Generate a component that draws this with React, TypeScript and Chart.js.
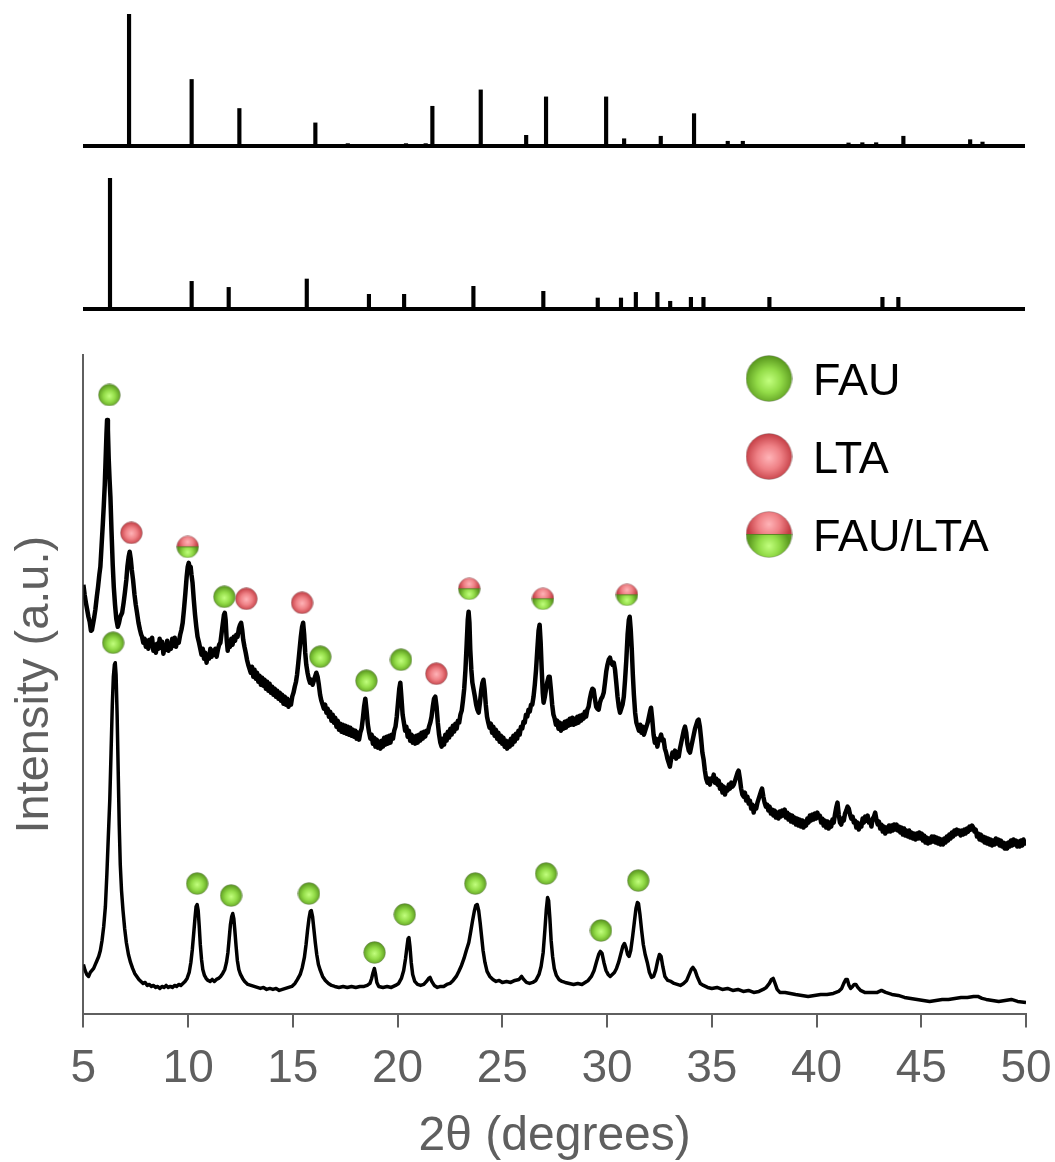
import React, { useEffect, useRef } from "react";
import { Chart, registerables } from "chart.js";

Chart.register(...registerables);

// ---------- Reference stick patterns (relative intensity) ----------
const ltaPos = [7.2, 10.19, 12.47, 16.1, 17.65, 20.43, 21.37, 21.69, 24.0, 26.17, 27.12, 29.99, 30.85, 32.6, 34.19, 35.8, 36.52, 41.57, 42.23, 42.89, 44.19, 47.38, 47.97];
const ltaInt = [100, 50.4, 28.4, 17.5, 1.8, 1.8, 1.8, 30.1, 42.5, 8.1, 37.2, 37.2, 5.5, 7.4, 24.5, 3.6, 3.6, 2.3, 2.5, 2.5, 7.4, 4.8, 3.0];

const fauPos = [6.29, 10.19, 11.96, 15.69, 18.66, 20.34, 23.65, 26.99, 29.59, 30.7, 31.41, 32.44, 33.05, 34.04, 34.64, 37.79, 43.19, 43.95];
const fauInt = [100, 21.1, 16.5, 22.9, 11.2, 11.2, 17.3, 13.5, 8.4, 8.4, 12.7, 12.7, 5.9, 8.9, 8.9, 8.9, 8.9, 8.9];

// ---------- Measured patterns: [2θ, intensity (a.u.)] ----------
const upperTrace: [number, number][] = [
  [5.0, 430], [5.06, 420], [5.12, 412], [5.18, 405], [5.24, 398], [5.3, 393], [5.36, 384], [5.41, 385], [5.47, 392], [5.52, 398], [5.57, 405], [5.64, 418], [5.7, 428], [5.76, 440], [5.81, 448], [5.87, 470], [5.93, 492], [5.97, 508], [6.02, 530], [6.06, 555], [6.1, 580], [6.13, 595], [6.17, 585], [6.21, 555], [6.25, 535], [6.29, 518], [6.34, 485], [6.4, 450], [6.45, 428], [6.51, 410], [6.57, 396], [6.64, 388], [6.7, 392], [6.76, 398], [6.85, 402], [6.92, 412], [6.98, 422], [7.05, 435], [7.1, 448], [7.16, 458], [7.21, 463], [7.26, 456], [7.31, 445], [7.37, 435], [7.44, 420], [7.5, 410], [7.56, 402], [7.63, 392], [7.7, 385], [7.76, 380], [7.8, 378], [7.86, 372], [7.92, 376], [7.98, 368], [8.04, 374], [8.1, 366], [8.16, 375], [8.22, 369], [8.28, 377], [8.34, 364], [8.4, 370], [8.46, 362], [8.52, 371], [8.58, 366], [8.64, 376], [8.7, 367], [8.76, 373], [8.82, 361], [8.88, 369], [8.94, 365], [9.0, 374], [9.06, 364], [9.12, 371], [9.18, 366], [9.24, 376], [9.3, 369], [9.36, 377], [9.42, 368], [9.48, 374], [9.55, 372], [9.62, 380], [9.68, 385], [9.74, 392], [9.8, 405], [9.87, 422], [9.93, 438], [9.98, 448], [10.03, 452], [10.08, 446], [10.12, 448], [10.16, 440], [10.21, 432], [10.27, 415], [10.33, 400], [10.39, 388], [10.45, 378], [10.52, 372], [10.58, 366], [10.64, 360], [10.7, 366], [10.76, 356], [10.82, 362], [10.88, 352], [10.94, 360], [11.0, 356], [11.06, 366], [11.12, 358], [11.18, 364], [11.24, 360], [11.3, 366], [11.36, 358], [11.42, 365], [11.48, 370], [11.54, 372], [11.6, 382], [11.66, 392], [11.71, 400], [11.75, 402], [11.79, 395], [11.84, 375], [11.89, 364], [11.94, 372], [12.0, 368], [12.06, 376], [12.12, 370], [12.18, 378], [12.24, 374], [12.3, 380], [12.36, 378], [12.42, 386], [12.48, 390], [12.53, 392], [12.58, 385], [12.63, 375], [12.69, 368], [12.75, 362], [12.81, 355], [12.87, 350], [12.93, 346], [12.99, 342], [13.05, 348], [13.11, 338], [13.17, 345], [13.23, 336], [13.29, 342], [13.35, 333], [13.41, 339], [13.47, 330], [13.53, 337], [13.59, 329], [13.65, 335], [13.71, 326], [13.77, 333], [13.83, 324], [13.89, 331], [13.95, 322], [14.01, 328], [14.07, 320], [14.13, 326], [14.19, 318], [14.25, 324], [14.31, 316], [14.37, 322], [14.43, 314], [14.49, 320], [14.55, 311], [14.61, 318], [14.67, 310], [14.73, 316], [14.79, 308], [14.85, 314], [14.91, 310], [14.97, 318], [15.03, 322], [15.09, 328], [15.15, 333], [15.2, 340], [15.26, 352], [15.32, 365], [15.38, 378], [15.44, 388], [15.49, 392], [15.54, 380], [15.59, 362], [15.64, 350], [15.7, 342], [15.76, 336], [15.82, 332], [15.88, 335], [15.94, 330], [16.0, 334], [16.06, 338], [16.12, 342], [16.18, 338], [16.24, 330], [16.3, 320], [16.36, 314], [16.42, 310], [16.48, 306], [16.54, 310], [16.6, 302], [16.66, 306], [16.72, 298], [16.78, 303], [16.84, 294], [16.9, 300], [16.96, 292], [17.02, 297], [17.08, 288], [17.14, 294], [17.2, 285], [17.26, 291], [17.32, 283], [17.38, 290], [17.44, 282], [17.5, 289], [17.56, 281], [17.62, 288], [17.68, 280], [17.74, 287], [17.8, 279], [17.86, 285], [17.92, 278], [17.98, 284], [18.04, 276], [18.1, 282], [18.16, 275], [18.22, 282], [18.28, 286], [18.34, 296], [18.4, 308], [18.46, 316], [18.52, 304], [18.58, 290], [18.64, 282], [18.7, 276], [18.76, 280], [18.82, 271], [18.88, 277], [18.94, 268], [19.0, 275], [19.06, 267], [19.12, 273], [19.18, 266], [19.24, 274], [19.3, 268], [19.36, 277], [19.42, 270], [19.48, 278], [19.54, 271], [19.6, 279], [19.66, 272], [19.72, 280], [19.78, 276], [19.84, 284], [19.9, 288], [19.96, 298], [20.02, 312], [20.08, 326], [20.13, 332], [20.18, 318], [20.24, 300], [20.3, 292], [20.36, 284], [20.42, 288], [20.48, 278], [20.54, 284], [20.6, 274], [20.66, 280], [20.72, 272], [20.78, 278], [20.84, 271], [20.9, 279], [20.96, 272], [21.02, 280], [21.08, 274], [21.14, 282], [21.2, 276], [21.26, 283], [21.32, 278], [21.38, 284], [21.44, 282], [21.5, 288], [21.56, 292], [21.62, 298], [21.68, 308], [21.74, 316], [21.8, 318], [21.86, 308], [21.92, 292], [21.98, 280], [22.04, 272], [22.1, 268], [22.16, 276], [22.22, 270], [22.28, 280], [22.34, 274], [22.4, 283], [22.46, 277], [22.52, 286], [22.58, 280], [22.64, 289], [22.7, 283], [22.76, 291], [22.82, 286], [22.88, 294], [22.94, 292], [23.0, 300], [23.06, 304], [23.12, 314], [23.18, 326], [23.24, 345], [23.3, 372], [23.35, 395], [23.39, 403], [23.43, 392], [23.47, 365], [23.52, 345], [23.57, 332], [23.63, 325], [23.69, 318], [23.75, 310], [23.81, 305], [23.87, 302], [23.93, 312], [23.99, 324], [24.05, 332], [24.1, 335], [24.15, 326], [24.21, 310], [24.27, 298], [24.33, 292], [24.39, 287], [24.45, 291], [24.51, 282], [24.57, 288], [24.63, 279], [24.69, 285], [24.75, 276], [24.81, 282], [24.87, 273], [24.93, 279], [24.99, 271], [25.05, 277], [25.11, 268], [25.17, 274], [25.23, 266], [25.29, 273], [25.35, 268], [25.41, 276], [25.47, 270], [25.53, 279], [25.59, 273], [25.65, 281], [25.71, 276], [25.77, 284], [25.83, 280], [25.89, 288], [25.95, 286], [26.01, 293], [26.07, 292], [26.13, 300], [26.19, 298], [26.25, 305], [26.31, 303], [26.37, 310], [26.43, 310], [26.49, 318], [26.55, 330], [26.61, 345], [26.67, 365], [26.73, 384], [26.78, 390], [26.83, 372], [26.88, 345], [26.93, 322], [26.97, 312], [27.03, 318], [27.09, 326], [27.15, 333], [27.21, 338], [27.26, 338], [27.32, 325], [27.38, 310], [27.44, 300], [27.5, 296], [27.56, 290], [27.62, 294], [27.68, 286], [27.74, 292], [27.8, 284], [27.86, 291], [27.92, 286], [27.98, 293], [28.04, 287], [28.1, 294], [28.16, 289], [28.22, 296], [28.28, 290], [28.34, 297], [28.4, 290], [28.46, 296], [28.52, 291], [28.58, 298], [28.64, 292], [28.7, 299], [28.76, 294], [28.82, 300], [28.88, 296], [28.94, 303], [29.0, 298], [29.06, 305], [29.12, 308], [29.18, 316], [29.24, 322], [29.3, 326], [29.36, 325], [29.42, 316], [29.48, 308], [29.54, 306], [29.6, 305], [29.66, 312], [29.72, 316], [29.78, 318], [29.84, 322], [29.9, 332], [29.96, 343], [30.02, 350], [30.08, 355], [30.14, 357], [30.2, 352], [30.26, 350], [30.32, 352], [30.38, 345], [30.44, 332], [30.5, 318], [30.56, 308], [30.62, 302], [30.68, 306], [30.74, 310], [30.8, 318], [30.86, 335], [30.92, 355], [30.98, 380], [31.04, 395], [31.08, 398], [31.13, 385], [31.18, 365], [31.23, 340], [31.28, 320], [31.34, 302], [31.4, 292], [31.46, 288], [31.52, 284], [31.58, 290], [31.64, 282], [31.7, 288], [31.76, 280], [31.82, 284], [31.88, 288], [31.94, 292], [32.0, 298], [32.06, 304], [32.1, 307], [32.16, 295], [32.22, 280], [32.28, 272], [32.34, 276], [32.4, 268], [32.46, 274], [32.52, 276], [32.58, 280], [32.64, 274], [32.7, 275], [32.76, 266], [32.82, 262], [32.88, 256], [32.94, 252], [33.0, 248], [33.06, 256], [33.12, 262], [33.18, 258], [33.24, 264], [33.3, 256], [33.36, 262], [33.42, 258], [33.48, 266], [33.54, 272], [33.6, 278], [33.66, 284], [33.72, 288], [33.78, 282], [33.84, 270], [33.9, 264], [33.96, 262], [34.02, 268], [34.08, 274], [34.14, 280], [34.2, 286], [34.26, 290], [34.32, 294], [34.37, 295], [34.43, 288], [34.49, 276], [34.55, 262], [34.61, 255], [34.67, 244], [34.73, 236], [34.79, 232], [34.85, 236], [34.91, 230], [34.97, 236], [35.03, 234], [35.09, 240], [35.15, 232], [35.21, 236], [35.27, 230], [35.33, 234], [35.39, 226], [35.45, 230], [35.51, 222], [35.57, 228], [35.63, 220], [35.69, 226], [35.75, 224], [35.81, 230], [35.87, 226], [35.93, 232], [35.99, 228], [36.05, 230], [36.11, 234], [36.17, 238], [36.23, 242], [36.28, 244], [36.34, 236], [36.4, 226], [36.46, 220], [36.52, 218], [36.58, 222], [36.64, 214], [36.7, 218], [36.76, 211], [36.82, 214], [36.88, 206], [36.94, 210], [37.0, 202], [37.06, 208], [37.12, 206], [37.18, 212], [37.24, 216], [37.3, 220], [37.36, 224], [37.4, 226], [37.46, 218], [37.52, 212], [37.58, 208], [37.64, 210], [37.7, 204], [37.76, 208], [37.82, 201], [37.88, 205], [37.94, 199], [38.0, 204], [38.06, 197], [38.12, 202], [38.18, 196], [38.24, 203], [38.3, 198], [38.36, 204], [38.42, 199], [38.48, 205], [38.54, 197], [38.6, 202], [38.66, 195], [38.72, 200], [38.78, 193], [38.84, 199], [38.9, 192], [38.96, 197], [39.02, 190], [39.08, 196], [39.14, 189], [39.2, 195], [39.26, 188], [39.32, 194], [39.38, 187], [39.44, 193], [39.5, 189], [39.56, 196], [39.62, 192], [39.68, 199], [39.74, 194], [39.8, 200], [39.86, 195], [39.92, 201], [39.98, 196], [40.04, 202], [40.1, 197], [40.16, 199], [40.22, 192], [40.28, 196], [40.34, 189], [40.4, 194], [40.46, 187], [40.52, 193], [40.58, 186], [40.64, 192], [40.7, 188], [40.76, 195], [40.82, 192], [40.88, 200], [40.94, 207], [41.0, 212], [41.06, 200], [41.12, 192], [41.18, 190], [41.24, 196], [41.3, 194], [41.36, 201], [41.42, 204], [41.48, 208], [41.54, 206], [41.6, 200], [41.66, 196], [41.72, 198], [41.78, 192], [41.84, 194], [41.9, 187], [41.96, 192], [42.02, 185], [42.08, 190], [42.14, 188], [42.2, 196], [42.26, 192], [42.32, 198], [42.38, 194], [42.44, 199], [42.5, 192], [42.56, 194], [42.62, 188], [42.68, 196], [42.74, 198], [42.8, 202], [42.86, 195], [42.92, 190], [42.98, 193], [43.04, 186], [43.1, 190], [43.16, 183], [43.22, 188], [43.28, 181], [43.34, 187], [43.4, 183], [43.46, 189], [43.52, 183], [43.58, 189], [43.64, 184], [43.7, 190], [43.76, 185], [43.82, 190], [43.88, 184], [43.94, 188], [44.0, 182], [44.06, 187], [44.12, 180], [44.18, 186], [44.24, 179], [44.3, 184], [44.36, 178], [44.42, 184], [44.48, 177], [44.54, 182], [44.6, 176], [44.66, 181], [44.72, 175], [44.78, 181], [44.84, 176], [44.9, 182], [44.96, 176], [45.02, 181], [45.08, 174], [45.14, 179], [45.2, 172], [45.26, 177], [45.32, 171], [45.38, 176], [45.44, 172], [45.5, 178], [45.56, 173], [45.62, 178], [45.68, 172], [45.74, 177], [45.8, 171], [45.86, 176], [45.92, 170], [45.98, 175], [46.04, 170], [46.1, 176], [46.16, 172], [46.22, 178], [46.28, 174], [46.34, 180], [46.4, 176], [46.46, 182], [46.52, 178], [46.58, 184], [46.64, 180], [46.7, 185], [46.76, 181], [46.82, 184], [46.88, 179], [46.94, 184], [47.0, 180], [47.06, 185], [47.12, 181], [47.18, 186], [47.24, 183], [47.3, 188], [47.36, 185], [47.42, 189], [47.48, 187], [47.54, 183], [47.6, 185], [47.66, 178], [47.72, 181], [47.78, 175], [47.84, 180], [47.9, 174], [47.96, 178], [48.02, 172], [48.08, 177], [48.14, 171], [48.2, 176], [48.26, 170], [48.32, 175], [48.38, 169], [48.44, 174], [48.5, 170], [48.56, 176], [48.62, 171], [48.68, 175], [48.74, 169], [48.8, 174], [48.86, 168], [48.92, 172], [48.98, 166], [49.04, 171], [49.1, 166], [49.16, 172], [49.22, 168], [49.28, 174], [49.34, 169], [49.4, 175], [49.46, 170], [49.52, 174], [49.58, 168], [49.64, 173], [49.7, 168], [49.76, 174], [49.82, 169], [49.88, 175], [49.94, 171], [50.0, 174],
];

const lowerTrace: [number, number][] = [
  [5.0, 50], [5.08, 44], [5.16, 40], [5.25, 38], [5.33, 42], [5.41, 44], [5.49, 46], [5.57, 50], [5.65, 54], [5.73, 58], [5.81, 64], [5.89, 74], [5.97, 88], [6.05, 108], [6.12, 140], [6.19, 178], [6.26, 215], [6.32, 262], [6.38, 310], [6.43, 338], [6.48, 350], [6.52, 352], [6.56, 340], [6.61, 300], [6.66, 245], [6.71, 190], [6.76, 150], [6.82, 124], [6.89, 104], [6.97, 86], [7.05, 72], [7.15, 60], [7.25, 52], [7.35, 46], [7.45, 41], [7.55, 38], [7.65, 35], [7.75, 33], [7.85, 31], [7.95, 32], [8.05, 29], [8.15, 30], [8.25, 28], [8.35, 29], [8.45, 27], [8.55, 28], [8.65, 26], [8.75, 28], [8.85, 27], [8.95, 29], [9.05, 27], [9.15, 28], [9.25, 27], [9.35, 29], [9.45, 28], [9.55, 30], [9.65, 29], [9.75, 31], [9.85, 33], [9.95, 36], [10.05, 42], [10.13, 52], [10.2, 65], [10.27, 82], [10.33, 97], [10.38, 108], [10.43, 110], [10.48, 104], [10.53, 88], [10.58, 70], [10.64, 55], [10.7, 45], [10.78, 39], [10.86, 36], [10.95, 34], [11.05, 33], [11.15, 35], [11.25, 33], [11.35, 35], [11.45, 36], [11.55, 38], [11.65, 41], [11.75, 45], [11.83, 52], [11.9, 62], [11.96, 76], [12.02, 90], [12.08, 98], [12.13, 101], [12.18, 96], [12.23, 84], [12.29, 68], [12.35, 54], [12.42, 45], [12.5, 40], [12.6, 36], [12.7, 33], [12.85, 30], [13.0, 29], [13.15, 28], [13.3, 27], [13.45, 26], [13.6, 27], [13.75, 25], [13.9, 26], [14.05, 25], [14.2, 26], [14.35, 24], [14.5, 25], [14.65, 26], [14.8, 27], [14.95, 28], [15.1, 31], [15.22, 35], [15.35, 40], [15.45, 47], [15.55, 57], [15.63, 70], [15.7, 84], [15.77, 96], [15.83, 103], [15.88, 104], [15.94, 98], [16.0, 86], [16.07, 72], [16.14, 60], [16.22, 50], [16.31, 44], [16.42, 38], [16.55, 34], [16.7, 31], [16.85, 29], [17.0, 28], [17.2, 27], [17.4, 28], [17.6, 27], [17.8, 28], [18.0, 27], [18.2, 28], [18.4, 28], [18.55, 29], [18.68, 31], [18.76, 36], [18.83, 42], [18.89, 46], [18.95, 40], [19.01, 32], [19.1, 28], [19.3, 27], [19.5, 28], [19.7, 27], [19.9, 29], [20.05, 31], [20.18, 36], [20.29, 44], [20.38, 56], [20.45, 68], [20.5, 76], [20.54, 77], [20.59, 68], [20.65, 52], [20.72, 40], [20.82, 33], [20.95, 30], [21.1, 29], [21.25, 30], [21.38, 33], [21.48, 36], [21.55, 37], [21.63, 33], [21.75, 29], [21.9, 27], [22.05, 28], [22.2, 28], [22.35, 30], [22.5, 31], [22.65, 34], [22.8, 38], [22.92, 43], [23.05, 49], [23.17, 56], [23.28, 64], [23.4, 72], [23.5, 84], [23.58, 94], [23.66, 103], [23.73, 109], [23.8, 110], [23.87, 104], [23.94, 92], [24.01, 78], [24.08, 64], [24.17, 52], [24.27, 43], [24.4, 38], [24.55, 35], [24.7, 33], [24.85, 34], [25.0, 32], [25.2, 33], [25.4, 32], [25.6, 34], [25.8, 35], [25.92, 38], [26.02, 35], [26.15, 32], [26.3, 31], [26.45, 32], [26.6, 34], [26.75, 40], [26.85, 48], [26.95, 62], [27.03, 84], [27.1, 105], [27.16, 117], [27.21, 114], [27.27, 96], [27.33, 74], [27.4, 58], [27.48, 46], [27.58, 39], [27.7, 35], [27.85, 33], [28.0, 32], [28.2, 31], [28.4, 30], [28.6, 31], [28.8, 30], [28.95, 32], [29.1, 34], [29.25, 38], [29.38, 44], [29.5, 53], [29.6, 60], [29.68, 63], [29.76, 61], [29.85, 52], [29.95, 44], [30.05, 40], [30.15, 38], [30.25, 40], [30.35, 42], [30.45, 46], [30.55, 52], [30.65, 60], [30.75, 68], [30.83, 71], [30.9, 67], [30.98, 60], [31.05, 58], [31.13, 64], [31.22, 78], [31.3, 92], [31.38, 106], [31.45, 112], [31.5, 111], [31.57, 100], [31.65, 84], [31.73, 70], [31.82, 60], [31.92, 52], [32.02, 42], [32.12, 37], [32.22, 38], [32.32, 44], [32.42, 54], [32.5, 60], [32.58, 58], [32.66, 48], [32.76, 38], [32.9, 34], [33.05, 33], [33.2, 31], [33.35, 30], [33.5, 29], [33.65, 31], [33.8, 34], [33.92, 40], [34.02, 45], [34.1, 47], [34.2, 44], [34.3, 38], [34.45, 31], [34.6, 29], [34.8, 27], [35.0, 26], [35.25, 27], [35.5, 25], [35.75, 26], [36.0, 24], [36.25, 25], [36.5, 23], [36.75, 24], [37.0, 22], [37.25, 23], [37.45, 25], [37.6, 27], [37.75, 31], [37.85, 35], [37.93, 36], [38.02, 31], [38.12, 25], [38.25, 22], [38.5, 22], [38.75, 21], [39.0, 20], [39.3, 19], [39.6, 18], [39.9, 19], [40.2, 20], [40.5, 20], [40.8, 21], [41.05, 23], [41.2, 26], [41.3, 31], [41.4, 35], [41.47, 35], [41.55, 29], [41.63, 26], [41.72, 28], [41.8, 30], [41.88, 30], [41.97, 27], [42.1, 24], [42.3, 22], [42.6, 22], [42.9, 22], [43.1, 24], [43.3, 22], [43.6, 20], [43.9, 19], [44.2, 17], [44.5, 16], [44.8, 15], [45.1, 14], [45.4, 13], [45.7, 14], [46.0, 15], [46.3, 15], [46.6, 16], [46.9, 17], [47.2, 17], [47.5, 18], [47.7, 18], [47.9, 16], [48.1, 15], [48.4, 14], [48.7, 13], [49.0, 14], [49.3, 15], [49.6, 13], [50.0, 12],
];

// ---------- Phase markers ----------
const fauMarkX = [6.24, 11.73, 16.31, 18.51, 20.16, 6.42, 10.43, 12.05, 15.77, 18.9, 20.34, 23.71, 27.09, 29.71, 31.49];
const fauMarkY = [620, 418, 358, 334, 355, 372, 131, 119, 121, 62, 100, 131, 141, 84, 134];
const ltaMarkX = [7.29, 12.78, 15.44, 21.85];
const ltaMarkY = [482, 416, 412, 341];
const mixMarkX = [9.98, 23.42, 26.94, 30.95];
const mixMarkY = [468, 426, 416, 420];

const legendLabels = ["FAU", "LTA", "FAU/LTA"];
const xTicks = [5, 10, 15, 20, 25, 30, 35, 40, 45, 50];
const xTitle = "2θ (degrees)";
const yTitle = "Intensity (a.u.)";

const FONT = "'Liberation Sans', Arial, Helvetica, sans-serif";
const GRAY = "#5f5f5f";

type Kind = "fau" | "lta" | "mix";

function makeSphere(d: number, kind: Kind): HTMLCanvasElement {
  const c = document.createElement("canvas");
  c.width = d;
  c.height = d;
  const g = c.getContext("2d")!;
  const cx = d / 2, cy = d / 2, r = d / 2 - 0.6;
  const green = (gx: number, gy: number, rr: number) => {
    const gr = g.createRadialGradient(gx, gy, 0, gx, gy, rr);
    gr.addColorStop(0, "#c2ff7e");
    gr.addColorStop(0.5, "#93dc48");
    gr.addColorStop(1, "#5b9a1f");
    return gr;
  };
  const red = (gx: number, gy: number, rr: number) => {
    const gr = g.createRadialGradient(gx, gy, 0, gx, gy, rr);
    gr.addColorStop(0, "#ffb4b8");
    gr.addColorStop(0.5, "#ef8186");
    gr.addColorStop(1, "#c43d44");
    return gr;
  };
  g.beginPath();
  g.arc(cx, cy, r, 0, Math.PI * 2);
  if (kind === "fau") {
    g.fillStyle = green(cx, cy + r * 0.1, r * 1.05);
    g.fill();
  } else if (kind === "lta") {
    g.fillStyle = red(cx, cy + r * 0.05, r * 1.05);
    g.fill();
  } else {
    g.save();
    g.clip();
    g.fillStyle = red(cx, cy - r * 0.45, r * 0.95);
    g.fillRect(0, 0, d, cy);
    g.fillStyle = green(cx, cy + r * 0.5, r * 0.9);
    g.fillRect(0, cy, d, d - cy);
    g.strokeStyle = "rgba(70,120,20,0.8)";
    g.lineWidth = 1;
    g.beginPath();
    g.moveTo(0, cy);
    g.lineTo(d, cy);
    g.stroke();
    g.restore();
  }
  g.beginPath();
  g.arc(cx, cy, r, 0, Math.PI * 2);
  g.strokeStyle = "rgba(110,110,110,0.45)";
  g.lineWidth = 0.8;
  g.stroke();
  return c;
}

function stickConfig(pos: number[], ints: number[], pad: { top: number; bottom: number }): any {
  return {
    type: "bar",
    data: {
      datasets: [
        {
          type: "line",
          data: [
            { x: 5, y: 0 },
            { x: 50, y: 0 },
          ],
          borderColor: "#000",
          borderWidth: 4,
          pointRadius: 0,
          clip: false,
        },
        {
          type: "bar",
          data: pos.map((x, i) => ({ x, y: ints[i] })),
          backgroundColor: "#000",
          barThickness: 3.5,
          grouped: false,
        },
      ],
    },
    options: {
      animation: false,
      responsive: false,
      events: [],
      layout: { padding: { left: 83, right: 30, top: pad.top, bottom: pad.bottom } },
      plugins: { legend: { display: false }, tooltip: { enabled: false } },
      scales: {
        x: { type: "linear", min: 5, max: 50, offset: false, display: false },
        y: { type: "linear", min: 0, max: 100, display: false },
      },
    },
  };
}

export default function App() {
  const topRef = useRef<HTMLCanvasElement>(null);
  const midRef = useRef<HTMLCanvasElement>(null);
  const mainRef = useRef<HTMLCanvasElement>(null);

  useEffect(() => {
    const charts: Chart[] = [];
    charts.push(new Chart(topRef.current!, stickConfig(ltaPos, ltaInt, { top: 14, bottom: 14 })));
    charts.push(new Chart(midRef.current!, stickConfig(fauPos, fauInt, { top: 18, bottom: 11 })));

    const sFau = makeSphere(23, "fau");
    const sLta = makeSphere(23, "lta");
    const sMix = makeSphere(23, "mix");
    const bigSpheres = [makeSphere(47, "fau"), makeSphere(47, "lta"), makeSphere(47, "mix")];

    const legendPlugin = {
      id: "sphereLegend",
      afterDraw(chart: any) {
        const ctx = chart.ctx as CanvasRenderingContext2D;
        const { top, right } = chart.chartArea;
        ctx.save();
        ctx.font = `45px ${FONT}`;
        ctx.fillStyle = "#000";
        ctx.textAlign = "left";
        ctx.textBaseline = "alphabetic";
        legendLabels.forEach((lab, i) => {
          const cy = top + 23.5 + i * 78;
          const cx = right - 257;
          const img = bigSpheres[i];
          ctx.drawImage(img, cx - img.width / 2, cy - img.height / 2);
          ctx.fillText(lab, cx + 44, cy + 16.5);
        });
        ctx.restore();
      },
    };

    const mk = (xs: number[], ys: number[]) => xs.map((x, i) => ({ x, y: ys[i] }));
    const fromPairs = (p: [number, number][]) => p.map(([x, y]) => ({ x, y }));

    charts.push(
      new Chart(mainRef.current!, {
        type: "scatter",
        data: {
          datasets: [
            { label: "FAU", data: mk(fauMarkX, fauMarkY), pointStyle: sFau as any, pointRadius: 11, showLine: false },
            { label: "LTA", data: mk(ltaMarkX, ltaMarkY), pointStyle: sLta as any, pointRadius: 11, showLine: false },
            { label: "FAU/LTA", data: mk(mixMarkX, mixMarkY), pointStyle: sMix as any, pointRadius: 11, showLine: false },
            {
              label: "sample",
              data: fromPairs(upperTrace),
              showLine: true,
              borderColor: "#000",
              borderWidth: 4.5,
              pointRadius: 0,
              tension: 0,
              borderJoinStyle: "round",
            } as any,
            {
              label: "FAU reference",
              data: fromPairs(lowerTrace),
              showLine: true,
              borderColor: "#000",
              borderWidth: 3.5,
              pointRadius: 0,
              tension: 0,
              borderJoinStyle: "round",
            } as any,
          ],
        },
        options: {
          animation: false,
          responsive: false,
          events: [],
          layout: { padding: { left: 0, right: 29, top: 35, bottom: 0 } },
          plugins: { legend: { display: false }, tooltip: { enabled: false } },
          scales: {
            x: {
              type: "linear",
              min: 5,
              max: 50,
              afterBuildTicks: (axis: any) => {
                axis.ticks = xTicks.map((v) => ({ value: v }));
              },
              grid: { display: true, drawOnChartArea: false, drawTicks: true, tickLength: 13, color: GRAY, lineWidth: 2 },
              border: { display: true, color: GRAY, width: 2 },
              ticks: { color: GRAY, font: { family: FONT, size: 46, lineHeight: 1.7 }, padding: 3, maxRotation: 0, autoSkip: false },
              title: {
                display: true,
                text: xTitle,
                color: GRAY,
                font: { family: FONT, size: 48, lineHeight: 1.05 },
                padding: { top: 0, bottom: 0 },
              },
            },
            y: {
              type: "linear",
              min: 0,
              max: 660,
              grid: { display: false, drawTicks: false },
              border: { display: true, color: GRAY, width: 2 },
              ticks: { display: false },
              title: {
                display: true,
                text: yTitle,
                color: GRAY,
                font: { family: FONT, size: 47, lineHeight: 1.2 },
                padding: { top: 7, bottom: 20 },
              },
            },
          },
        },
        plugins: [legendPlugin],
      } as any)
    );

    return () => charts.forEach((c) => c.destroy());
  }, []);

  return (
    <div style={{ position: "absolute", left: 0, top: 0, width: 1055, height: 1162, overflow: "hidden", background: "#fff" }}>
      <canvas ref={topRef} width={1055} height={160} style={{ position: "absolute", left: 0, top: 0 }} />
      <canvas ref={midRef} width={1055} height={160} style={{ position: "absolute", left: 0, top: 160 }} />
      <canvas ref={mainRef} width={1055} height={842} style={{ position: "absolute", left: 0, top: 320 }} />
    </div>
  );
}
